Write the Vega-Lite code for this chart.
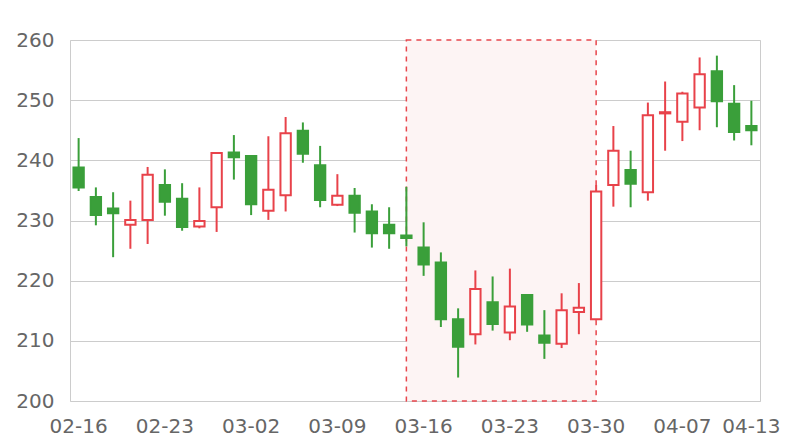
{
  "$schema": "https://vega.github.io/schema/vega-lite/v6.json",
  "width": 690,
  "height": 361,
  "autosize": {"type": "none"},
  "padding": {"left": 70, "top": 40, "right": 40, "bottom": 39},
  "background": "#ffffff",
  "config": {
    "view": {"stroke": "#cccccc", "strokeWidth": 1},
    "font": "DejaVu Sans",
    "axis": {"labelFont": "DejaVu Sans", "labelFontSize": 20, "labelColor": "#666666", "ticks": false, "domain": false}
  },
  "datasets": {
    "k": [
      {"date": "02-16", "open": 238.8, "close": 235.5, "high": 243.7, "low": 234.9},
      {"date": "02-17", "open": 233.9, "close": 230.9, "high": 235.5, "low": 229.2},
      {"date": "02-18", "open": 232.0, "close": 231.2, "high": 234.7, "low": 223.9},
      {"date": "02-19", "open": 229.3, "close": 230.1, "high": 233.3, "low": 225.3},
      {"date": "02-20", "open": 230.1, "close": 237.6, "high": 238.9, "low": 226.1},
      {"date": "02-23", "open": 235.9, "close": 233.1, "high": 238.5, "low": 230.8},
      {"date": "02-24", "open": 233.6, "close": 228.9, "high": 236.2, "low": 228.3},
      {"date": "02-25", "open": 229.0, "close": 229.9, "high": 235.5, "low": 228.7},
      {"date": "02-26", "open": 232.2, "close": 241.2, "high": 241.3, "low": 228.1},
      {"date": "02-27", "open": 241.3, "close": 240.5, "high": 244.2, "low": 236.8},
      {"date": "03-02", "open": 240.7, "close": 232.7, "high": 240.8, "low": 230.9},
      {"date": "03-03", "open": 231.6, "close": 235.1, "high": 244.0, "low": 230.1},
      {"date": "03-04", "open": 234.2, "close": 244.5, "high": 247.2, "low": 231.5},
      {"date": "03-05", "open": 244.9, "close": 241.1, "high": 246.3, "low": 239.6},
      {"date": "03-06", "open": 239.2, "close": 233.4, "high": 242.4, "low": 232.2},
      {"date": "03-09", "open": 232.6, "close": 234.1, "high": 237.7, "low": 232.4},
      {"date": "03-10", "open": 234.1, "close": 231.3, "high": 235.4, "low": 228.0},
      {"date": "03-11", "open": 231.5, "close": 227.9, "high": 232.7, "low": 225.5},
      {"date": "03-12", "open": 229.3, "close": 227.9, "high": 232.2, "low": 225.3},
      {"date": "03-13", "open": 227.5, "close": 227.1, "high": 235.6, "low": 225.7},
      {"date": "03-16", "open": 225.5, "close": 222.7, "high": 229.7, "low": 220.8},
      {"date": "03-17", "open": 223.0, "close": 213.6, "high": 224.7, "low": 212.3},
      {"date": "03-18", "open": 213.6, "close": 209.0, "high": 215.4, "low": 203.9},
      {"date": "03-19", "open": 211.1, "close": 218.6, "high": 221.7, "low": 209.4},
      {"date": "03-20", "open": 216.4, "close": 212.8, "high": 220.7, "low": 211.7},
      {"date": "03-23", "open": 211.4, "close": 215.7, "high": 222.0, "low": 210.1},
      {"date": "03-24", "open": 217.6, "close": 212.7, "high": 217.7, "low": 211.5},
      {"date": "03-25", "open": 210.9, "close": 209.7, "high": 215.1, "low": 207.0},
      {"date": "03-26", "open": 209.5, "close": 215.1, "high": 217.9, "low": 208.8},
      {"date": "03-27", "open": 214.8, "close": 215.5, "high": 219.6, "low": 211.1},
      {"date": "03-30", "open": 213.6, "close": 234.8, "high": 235.9, "low": 213.4},
      {"date": "03-31", "open": 235.9, "close": 241.6, "high": 245.7, "low": 232.3},
      {"date": "04-01", "open": 238.4, "close": 236.1, "high": 241.6, "low": 232.2},
      {"date": "04-02", "open": 234.7, "close": 247.5, "high": 249.6, "low": 233.3},
      {"date": "04-03", "open": 247.8, "close": 248.0, "high": 253.1, "low": 241.6},
      {"date": "04-07", "open": 246.4, "close": 251.1, "high": 251.4, "low": 243.2},
      {"date": "04-08", "open": 248.8, "close": 254.3, "high": 257.1, "low": 245.0},
      {"date": "04-09", "open": 254.8, "close": 249.8, "high": 257.4, "low": 245.5},
      {"date": "04-10", "open": 249.4, "close": 244.7, "high": 252.5, "low": 243.3},
      {"date": "04-13", "open": 245.7, "close": 245.0, "high": 249.9, "low": 242.5}
    ],
    "zone": [{"start": "03-13", "end": "03-30"}]
  },
  "layer": [
    {
      "data": {"name": "zone"},
      "mark": {"type": "rect", "fill": "#fdf4f4", "stroke": "#e8454c", "strokeWidth": 1.5, "strokeDash": [5, 5]},
      "encoding": {
        "x": {"field": "start", "type": "ordinal", "bandPosition": 0.5},
        "x2": {"field": "end"}
      }
    },
    {
      "data": {"name": "k"},
      "layer": [
        {
          "mark": {"type": "rule", "strokeWidth": 2},
          "encoding": {
            "y": {"field": "low", "type": "quantitative"},
            "y2": {"field": "high"},
            "stroke": {"condition": {"test": "datum.close < datum.open", "value": "#3a9f3a"}, "value": "#e8424a"}
          }
        },
        {
          "mark": {"type": "bar", "width": {"band": 0.6}, "strokeWidth": 2},
          "encoding": {
            "y": {"field": "open", "type": "quantitative"},
            "y2": {"field": "close"},
            "fill": {"condition": {"test": "datum.close < datum.open", "value": "#3a9f3a"}, "value": "#ffffff"},
            "stroke": {"condition": {"test": "datum.close < datum.open", "value": "#3a9f3a"}, "value": "#e8424a"}
          }
        }
      ]
    }
  ],
  "encoding": {
    "x": {
      "field": "date",
      "type": "ordinal",
      "sort": null,
      "title": null,
      "scale": {
        "domain": ["02-16", "02-17", "02-18", "02-19", "02-20", "02-23", "02-24", "02-25", "02-26", "02-27", "03-02", "03-03", "03-04", "03-05", "03-06", "03-09", "03-10", "03-11", "03-12", "03-13", "03-16", "03-17", "03-18", "03-19", "03-20", "03-23", "03-24", "03-25", "03-26", "03-27", "03-30", "03-31", "04-01", "04-02", "04-03", "04-07", "04-08", "04-09", "04-10", "04-13"],
        "paddingInner": 0, "paddingOuter": 0
      },
      "axis": {"values": ["02-16", "02-23", "03-02", "03-09", "03-16", "03-23", "03-30", "04-07", "04-13"], "labelAngle": 0, "grid": false, "labelPadding": 15}
    },
    "y": {
      "type": "quantitative",
      "title": null,
      "scale": {"domain": [200, 260], "nice": false, "zero": false},
      "axis": {"values": [200, 210, 220, 230, 240, 250, 260], "grid": true, "gridColor": "#cccccc", "labelPadding": 16}
    }
  }
}
